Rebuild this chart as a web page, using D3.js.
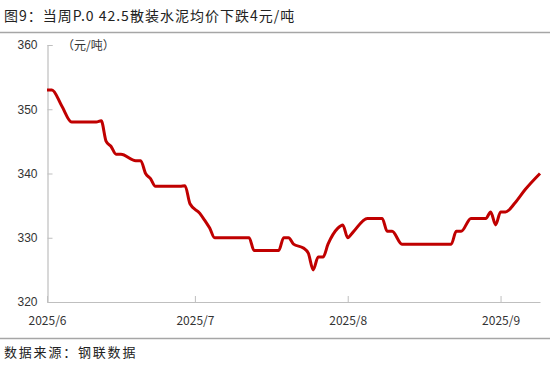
<!DOCTYPE html>
<html>
<head>
<meta charset="utf-8">
<script src="https://cdn.jsdelivr.net/npm/d3@7"></script>
<style>
  body { margin: 0; background: #fff; }
  svg { display: block; }
</style>
</head>
<body>
<div class="chart"></div>
<script>
const chartTitle = "图9：当周P.0 42.5散装水泥均价下跌4元/吨";
const sourceText = "数据来源：钢联数据";
const unitLabel = "（元/吨）";

// price series
const dates = [
	"2025-06-01", "2025-06-02", "2025-06-04", "2025-06-06", "2025-06-11", "2025-06-12",
	"2025-06-13", "2025-06-14", "2025-06-15", "2025-06-16", "2025-06-19", "2025-06-20",
	"2025-06-21", "2025-06-22", "2025-06-23", "2025-06-28", "2025-06-29", "2025-06-30",
	"2025-07-02", "2025-07-03", "2025-07-04", "2025-07-05", "2025-07-12", "2025-07-13",
	"2025-07-18", "2025-07-19", "2025-07-20", "2025-07-21", "2025-07-23", "2025-07-24",
	"2025-07-25", "2025-07-26", "2025-07-27", "2025-07-28", "2025-07-30", "2025-07-31",
	"2025-08-01", "2025-08-02", "2025-08-05", "2025-08-08", "2025-08-09", "2025-08-10",
	"2025-08-12", "2025-08-22", "2025-08-23", "2025-08-24", "2025-08-26", "2025-08-29",
	"2025-08-30", "2025-08-31", "2025-09-01", "2025-09-02", "2025-09-04", "2025-09-06",
	"2025-09-09"
];
const prices = [
	353, 353, 350.5, 348, 348, 348.2,
	345, 344.2, 343, 343, 342, 342,
	340, 339.2, 338, 338, 338.1, 335.3,
	333.8, 332.7, 331.5, 330, 330, 328,
	328, 330, 330, 329, 328.4, 327.6,
	325, 327, 327, 329, 331.5, 332,
	330, 330.8, 333, 333, 331, 331,
	329, 329, 331, 331, 333, 333,
	334, 332, 334, 334, 335.5, 337.5,
	340
];

const yTicks = [320, 330, 340, 350, 360];
const xTicks = ["2025-06-01", "2025-07-01", "2025-08-01", "2025-09-01"];

const width = 550;
const height = 367;
const parseDate = d3.timeParse("%Y-%m-%d");
const series = dates.map((d, i) => ({ date: parseDate(d), value: prices[i] }));

const svg = d3.select(".chart")
	.append("svg")
	.attr("width", width)
	.attr("height", height);

// header & footer
svg.append("text")
	.attr("x", 4)
	.attr("y", 21)
	.attr("font-family", "Noto Sans CJK SC")
	.attr("font-size", 14)
	.attr("letter-spacing", 1)
	.attr("fill", "#222")
	.text(chartTitle);

svg.append("line")
	.attr("x1", 0).attr("x2", width)
	.attr("y1", 32.5).attr("y2", 32.5)
	.attr("stroke", "#a6a6a6")
	.attr("stroke-width", 1.5);

svg.append("line")
	.attr("x1", 0).attr("x2", width)
	.attr("y1", 338.5).attr("y2", 338.5)
	.attr("stroke", "#a6a6a6")
	.attr("stroke-width", 1.5);

svg.append("text")
	.attr("x", 4)
	.attr("y", 357)
	.attr("font-family", "Noto Sans CJK SC")
	.attr("font-size", 13)
	.attr("letter-spacing", 1.8)
	.attr("fill", "#222")
	.text(sourceText);

// scales
const x = d3.scaleTime()
	.domain([parseDate("2025-06-01"), parseDate("2025-09-09")])
	.range([47, 540]);
const y = d3.scaleLinear()
	.domain([320, 360])
	.range([302, 45]);

// y axis
const yAxis = svg.append("g")
	.attr("transform", "translate(47.5,0)")
	.call(d3.axisRight(y).tickValues(yTicks).tickSize(5).tickFormat(d3.format("d")));
yAxis.select(".domain").attr("stroke", "#bfbfbf").attr("stroke-width", 1.2);
yAxis.selectAll(".tick line").attr("stroke", "#bfbfbf");
yAxis.selectAll(".tick text")
	.attr("x", -10)
	.attr("text-anchor", "end")
	.attr("font-family", "Liberation Sans")
	.attr("font-size", 12)
	.attr("fill", "#333");

// x axis
const xAxis = svg.append("g")
	.attr("transform", "translate(0,302)")
	.call(d3.axisTop(x).tickValues(xTicks.map(parseDate)).tickSize(6).tickSizeOuter(0).tickFormat(d3.timeFormat("%Y/%-m")));
xAxis.select(".domain").attr("stroke", "#bfbfbf").attr("stroke-width", 1.2);
xAxis.selectAll(".tick line").attr("stroke", "#bfbfbf");
xAxis.selectAll(".tick text")
	.attr("y", 23)
	.attr("font-family", "Noto Sans CJK SC")
	.attr("font-size", 12)
	.attr("fill", "#333");

// unit
svg.append("text")
	.attr("x", 62)
	.attr("y", 50)
	.attr("font-family", "Noto Sans CJK SC")
	.attr("font-size", 12)
	.attr("fill", "#333")
	.text(unitLabel);

// price line
const line = d3.line()
	.x((d) => x(d.date))
	.y((d) => y(d.value))
	.curve(d3.curveMonotoneX);

svg.append("path")
	.datum(series)
	.attr("fill", "none")
	.attr("stroke", "#c00000")
	.attr("stroke-width", 3)
	.attr("stroke-linejoin", "round")
	.attr("d", line);
</script>
</body>
</html>
